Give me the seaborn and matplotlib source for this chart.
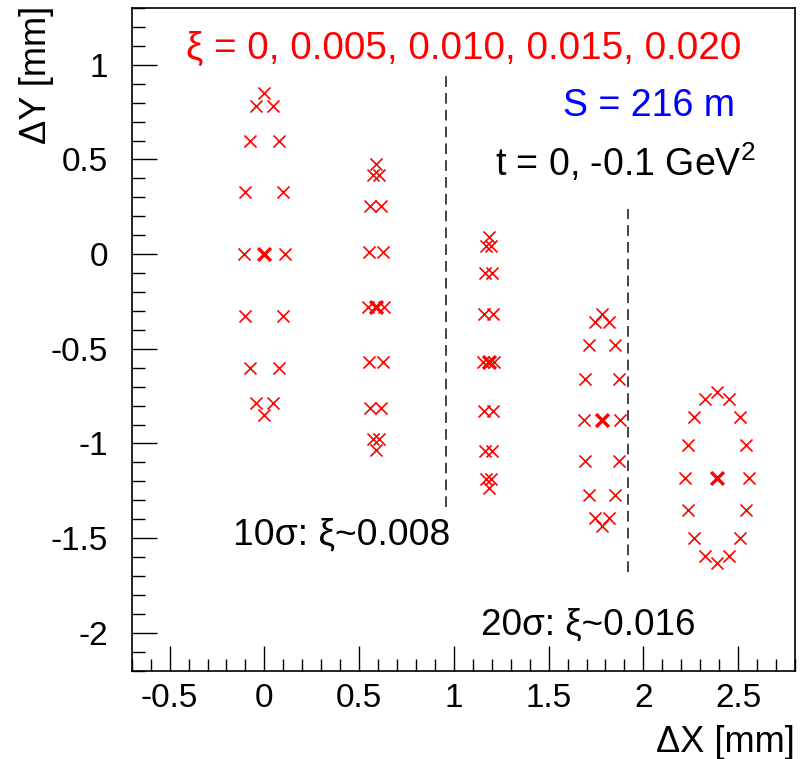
import numpy as np
import pandas as pd
import matplotlib
matplotlib.use("Agg")
import matplotlib.pyplot as plt
import seaborn as sns

# ---- data ----
xi_values = ["0", "0.005", "0.010", "0.015", "0.020"]

# t = -0.1 GeV^2 ring points (16 azimuths) for each xi
ring_x_xi0 = [0.000, -0.043, 0.043, -0.076, 0.076, -0.100, 0.100, -0.107, 0.107, -0.100, 0.100, -0.076, 0.076, -0.043, 0.043, 0.000]
ring_y_xi0 = [0.850, 0.785, 0.785, 0.600, 0.600, 0.326, 0.326, 0.000, 0.000, -0.326, -0.326, -0.600, -0.600, -0.785, -0.785, -0.850]

ring_x_xi1 = [0.589, 0.571, 0.607, 0.560, 0.618, 0.551, 0.627, 0.548, 0.630, 0.551, 0.627, 0.560, 0.618, 0.571, 0.607, 0.589]
ring_y_xi1 = [0.475, 0.418, 0.418, 0.254, 0.254, 0.009, 0.009, -0.280, -0.280, -0.569, -0.569, -0.814, -0.814, -0.978, -0.978, -1.035]

ring_x_xi2 = [1.183, 1.172, 1.194, 1.163, 1.203, 1.157, 1.209, 1.155, 1.211, 1.157, 1.209, 1.163, 1.203, 1.172, 1.194, 1.183]
ring_y_xi2 = [0.093, 0.042, 0.042, -0.102, -0.102, -0.318, -0.318, -0.572, -0.572, -0.826, -0.826, -1.042, -1.042, -1.186, -1.186, -1.237]

ring_x_xi3 = [1.781, 1.744, 1.818, 1.712, 1.850, 1.691, 1.871, 1.685, 1.877, 1.691, 1.871, 1.712, 1.850, 1.744, 1.818, 1.781]
ring_y_xi3 = [-0.314, -0.357, -0.357, -0.478, -0.478, -0.660, -0.660, -0.875, -0.875, -1.090, -1.090, -1.272, -1.272, -1.393, -1.393, -1.436]

ring_x_xi4 = [2.389, 2.326, 2.452, 2.269, 2.509, 2.234, 2.544, 2.222, 2.556, 2.234, 2.544, 2.269, 2.509, 2.326, 2.452, 2.389]
ring_y_xi4 = [-0.730, -0.764, -0.764, -0.862, -0.862, -1.008, -1.008, -1.180, -1.180, -1.352, -1.352, -1.498, -1.498, -1.596, -1.596, -1.630]

# t = 0 points
center_x = [0.000, 0.589, 1.183, 1.781, 2.389]
center_y = [0.000, -0.280, -0.572, -0.875, -1.180]

# acceptance limits (dashed lines)
limit_x = [0.959, 1.918]
limit_ymin = [-1.335, -1.679]
limit_ymax = [0.967, 0.237]

x_ticks = [-0.5, 0, 0.5, 1, 1.5, 2, 2.5]
y_ticks = [-2, -1.5, -1, -0.5, 0, 0.5, 1]

rings_x = [ring_x_xi0, ring_x_xi1, ring_x_xi2, ring_x_xi3, ring_x_xi4]
rings_y = [ring_y_xi0, ring_y_xi1, ring_y_xi2, ring_y_xi3, ring_y_xi4]

rows = []
for xi, rx, ry in zip(xi_values, rings_x, rings_y):
    for a, b in zip(rx, ry):
        rows.append({"xi": xi, "t": "-0.1", "dx": a, "dy": b})
ring_df = pd.DataFrame(rows)
center_df = pd.DataFrame({"xi": xi_values, "t": "0", "dx": center_x, "dy": center_y})

# ---- style ----
sns.set_style("ticks")
plt.rcParams["font.family"] = ["Liberation Sans", "DejaVu Sans"]
plt.rcParams["mathtext.fontset"] = "custom"
plt.rcParams["mathtext.rm"] = "Liberation Sans"
plt.rcParams["mathtext.it"] = "Liberation Sans"
for key in ["text.color", "axes.labelcolor", "xtick.color", "ytick.color", "axes.edgecolor"]:
    plt.rcParams[key] = "black"

fig = plt.figure(figsize=(8.12, 7.59), dpi=100)
ax = fig.add_axes([131.7 / 812, 1 - 670.7 / 759, 663.3 / 812, 662.7 / 759])

sns.scatterplot(data=ring_df, x="dx", y="dy", ax=ax, marker="x", color="#ff0000",
                s=75, linewidth=1.2, legend=False, zorder=3)
sns.scatterplot(data=center_df, x="dx", y="dy", ax=ax, marker="x", color="#ff0000",
                s=85, linewidth=2.4, legend=False, zorder=4)

for xv, y0, y1 in zip(limit_x, limit_ymin, limit_ymax):
    ax.plot([xv, xv], [y0, y1], color="#111111", lw=1.1, linestyle=(0, (7, 4)), zorder=2)

ax.set_xlim(-0.7, 2.8)
ax.set_ylim(-2.2, 1.3)
ax.set_xticks(x_ticks)
ax.set_xticklabels(["-0.5", "0", "0.5", "1", "1.5", "2", "2.5"])
ax.set_yticks(y_ticks)
ax.set_yticklabels(["-2", "-1.5", "-1", "-0.5", "0", "0.5", "1"])
ax.set_xticks(np.arange(-0.7, 2.81, 0.1).round(2), minor=True)
ax.set_yticks(np.arange(-2.2, 1.31, 0.1).round(2), minor=True)
ax.tick_params(which="both", direction="in", top=False, right=False, width=1, color="black")
ax.tick_params(which="major", length=18, labelsize=24, pad=9, labelcolor="black")
ax.tick_params(which="minor", length=9)
ax.tick_params(axis="y", which="major", pad=17)
for sp in ax.spines.values():
    sp.set_visible(True)
    sp.set_linewidth(1.2)
    sp.set_color("black")
ax.set_xlabel("")
ax.set_ylabel("")

fig.text(795 / 812, 1 - 752 / 759, "ΔX [mm]", ha="right", va="baseline", fontsize=26, color="black")
fig.text(37 / 812, 1 - 6 / 759, "ΔY [mm]", ha="center", va="top", rotation=90, fontsize=26, color="black")

ax.text(0.082, 0.923, "ξ = 0, 0.005, 0.010, 0.015, 0.020", transform=ax.transAxes,
        color="#ff0000", fontsize=27.8, ha="left", va="baseline")
ax.text(0.650, 0.837, "S = 216 m", transform=ax.transAxes,
        color="#0000ff", fontsize=27, ha="left", va="baseline")
ax.text(0.548, 0.746, "t = 0, -0.1 GeV$^{2}$", transform=ax.transAxes,
        color="black", fontsize=27, ha="left", va="baseline")
ax.text(0.153, 0.190, "10σ: ξ~0.008", transform=ax.transAxes,
        color="black", fontsize=26.8, ha="left", va="baseline")
ax.text(0.526, 0.054, "20σ: ξ~0.016", transform=ax.transAxes,
        color="black", fontsize=26.6, ha="left", va="baseline")

fig.savefig("out.png", dpi=100)
